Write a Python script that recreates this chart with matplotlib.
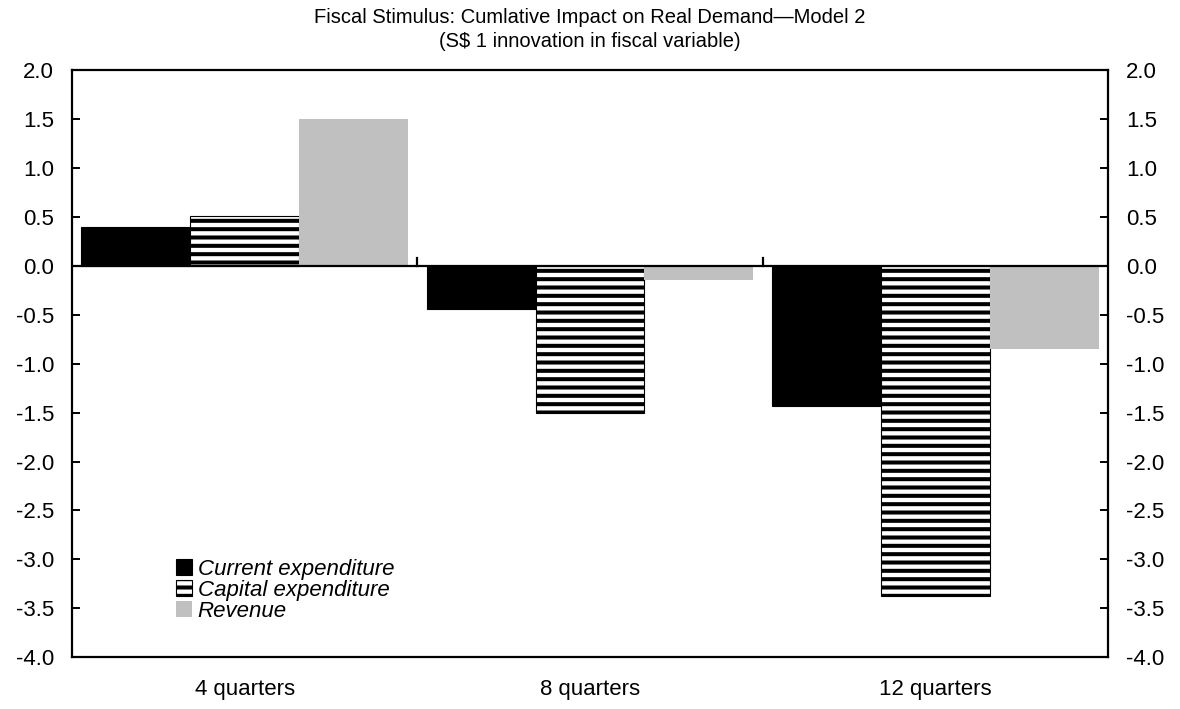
import matplotlib.pyplot as plt
import numpy as np

plt.rcParams['font.family'] = ['Liberation Sans', 'DejaVu Sans']
plt.rcParams['hatch.linewidth'] = 2.9

# cumulative impact per horizon
horizons = ['4 quarters', '8 quarters', '12 quarters']
current_exp = [0.40, -0.44, -1.43]
capital_exp = [0.51, -1.50, -3.37]
revenue = [1.50, -0.14, -0.85]

fig = plt.figure(figsize=(11.8, 7.09), dpi=100)
ax = fig.add_axes([0.061, 0.073, 0.878, 0.828])

x = np.arange(len(horizons))
w = 0.315
ax.bar(x - w, current_exp, w, color='black', edgecolor='black', linewidth=0.8,
       label='Current expenditure', zorder=2)
ax.bar(x, capital_exp, w, color='white', edgecolor='black', hatch='--', linewidth=0.8,
       label='Capital expenditure', zorder=2)
ax.bar(x + w, revenue, w, color='#c0c0c0', edgecolor='#c0c0c0', linewidth=0,
       label='Revenue', zorder=2)

ax.set_xlim(-0.5, len(horizons) - 0.5)
ax.set_ylim(-4.0, 2.0)
yt = np.arange(-4.0, 2.01, 0.5)
ax.set_yticks(yt)
ax.set_yticklabels([f'{v:.1f}' for v in yt])
ax.set_xticks(x)
ax.set_xticklabels(horizons)

ax.tick_params(axis='y', direction='in', left=True, right=True,
               labelleft=True, labelright=True, labelsize=16, length=6, width=1.4, pad=13)
ax.tick_params(axis='x', length=0, labelsize=16, pad=16)

# zero line with small separators between horizons
ax.axhline(0, color='black', lw=1.6, zorder=3)
for b in x[:-1] + 0.5:
    ax.plot([b, b], [0, 0.08], color='black', lw=1.6, zorder=3)

for s in ax.spines.values():
    s.set_linewidth(1.6)

ax.set_title('Fiscal Stimulus: Cumlative Impact on Real Demand\u2014Model 2\n'
             '(S$ 1 innovation in fiscal variable)', fontsize=14.5, pad=17, linespacing=1.3)

ax.legend(loc='lower left', bbox_to_anchor=(0.1, 0.06), frameon=False,
          prop={'style': 'italic', 'size': 16}, handlelength=0.75, handleheight=0.7,
          handletextpad=0.25, labelspacing=0.0, borderaxespad=0, borderpad=0)

fig.savefig('out.png', dpi=100)
